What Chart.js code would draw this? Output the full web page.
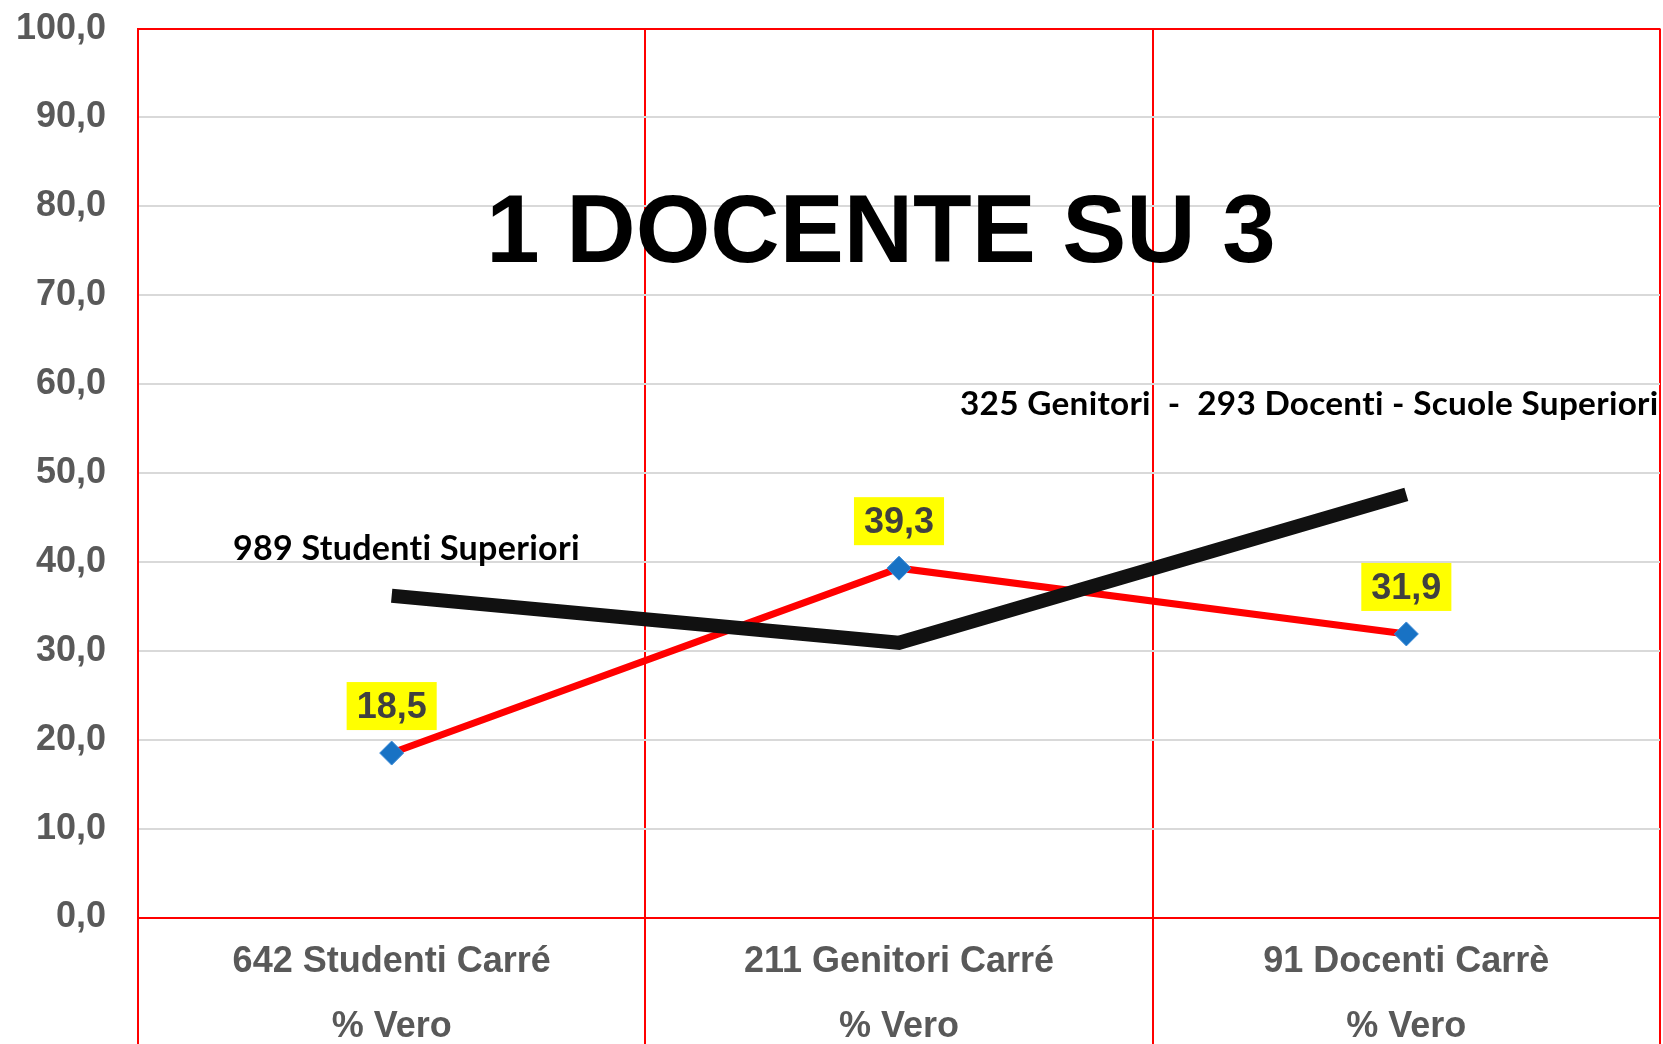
<!DOCTYPE html>
<html>
<head>
<meta charset="utf-8">
<script src="https://cdn.jsdelivr.net/npm/chart.js@4"></script>
<style>
  html, body { margin: 0; padding: 0; background: #ffffff; }
  #wrap { width: 1663px; height: 1044px; position: relative; }
</style>
</head>
<body>
<div id="wrap"><canvas id="c" width="1663" height="1044"></canvas></div>
<script>
// ---- data ----
const categories = [
  ["642 Studenti Carré", "% Vero"],
  ["211 Genitori Carré", "% Vero"],
  ["91 Docenti Carrè", "% Vero"]
];
const carreValues = [18.5, 39.3, 31.9];          // red line, labelled
const superioriValues = [36.2, 30.9, 47.6];      // black line (Scuole Superiori)
const yMin = 0, yMax = 100, yStep = 10;
const titleText = "1 DOCENTE SU 3";
const noteStudenti = "989 Studenti Superiori";
const noteGenitori = "325 Genitori  -  293 Docenti - Scuole Superiori";

const fmt = v => Number(v).toFixed(1).replace('.', ',');

const overlayPlugin = {
  id: 'overlay',
  afterDatasetsDraw(chart) {
    const ctx = chart.ctx;
    const meta = chart.getDatasetMeta(1);
    ctx.save();
    ctx.font = 'bold 36px "Liberation Sans", Arial, sans-serif';
    ctx.textAlign = 'center';
    ctx.textBaseline = 'middle';
    meta.data.forEach((pt, i) => {
      const txt = fmt(carreValues[i]);
      const w = ctx.measureText(txt).width + 20;
      const h = 48;
      const cy = pt.y - 47;
      ctx.fillStyle = '#ffff00';
      ctx.fillRect(pt.x - w / 2, cy - h / 2, w, h);
      ctx.fillStyle = '#404040';
      ctx.fillText(txt, pt.x, cy + 2);
    });
    ctx.fillStyle = '#000000';
    ctx.textAlign = 'center';
    ctx.textBaseline = 'alphabetic';
    ctx.font = 'bold 96px "Liberation Sans", Arial, sans-serif';
    ctx.fillText(titleText, 881, 262);
    ctx.textAlign = 'left';
    try { ctx.letterSpacing = '0.3px'; } catch (e) {}
    ctx.font = 'bold 34px Lato, "Open Sans", sans-serif';
    ctx.fillText(noteStudenti, 233, 560);
    ctx.font = 'bold 33.3px Lato, "Open Sans", sans-serif';
    ctx.fillText(noteGenitori, 960, 415);
    ctx.restore();
  }
};

new Chart(document.getElementById('c'), {
  type: 'line',
  data: {
    labels: categories,
    datasets: [
      {
        label: 'Scuole Superiori',
        data: superioriValues,
        borderColor: '#111111',
        borderWidth: 14,
        pointRadius: 0,
        borderCapStyle: 'butt',
        borderJoinStyle: 'miter',
        tension: 0,
        fill: false
      },
      {
        label: 'Carré % Vero',
        data: carreValues,
        borderColor: '#ff0000',
        borderWidth: 7,
        pointStyle: 'rectRot',
        pointRadius: 12,
        pointBackgroundColor: '#1872c4',
        pointBorderColor: '#3a8ad6',
        pointBorderWidth: 1,
        tension: 0,
        fill: false
      }
    ]
  },
  options: {
    responsive: false,
    animation: false,
    devicePixelRatio: 1,
    layout: { autoPadding: false, padding: { top: 28.6, right: 3, bottom: 0, left: 0 } },
    plugins: {
      legend: { display: false },
      tooltip: { enabled: false },
      title: { display: false }
    },
    scales: {
      x: {
        offset: true,
        grid: {
          offset: true,
          color: '#ff0000',
          lineWidth: 2,
          drawTicks: true,
          tickLength: 127
        },
        border: { color: '#ff0000', width: 2 },
        ticks: {
          padding: -115,
          color: '#595959',
          maxRotation: 0,
          autoSkip: false,
          font: { family: '"Liberation Sans", Arial, sans-serif', size: 36, weight: 'bold', lineHeight: 1.8 }
        },
        afterFit(scale) {
          scale.height = 126.5;
          scale.paddingLeft = 0; scale.paddingRight = 0;
        }
      },
      y: {
        min: yMin,
        max: yMax,
        ticks: {
          stepSize: yStep,
          padding: 0,
          color: '#595959',
          callback: v => fmt(v),
          font: { family: '"Liberation Sans", Arial, sans-serif', size: 36, weight: 'bold', lineHeight: 1.2 }
        },
        grid: {
          drawTicks: true,
          tickLength: 32,
          tickColor: 'rgba(0,0,0,0)',
          lineWidth: 2,
          color: c => (c.tick && (c.tick.value === 0 || c.tick.value === 100)) ? '#ff0000' : '#d9d9d9'
        },
        border: { color: '#ff0000', width: 2 },
        afterFit(scale) {
          scale.width = 138;
          scale.paddingTop = 28.6; scale.paddingBottom = 0;
          scale.paddingLeft = 0; scale.paddingRight = 0;
        }
      }
    }
  },
  plugins: [overlayPlugin]
});
</script>
</body>
</html>
